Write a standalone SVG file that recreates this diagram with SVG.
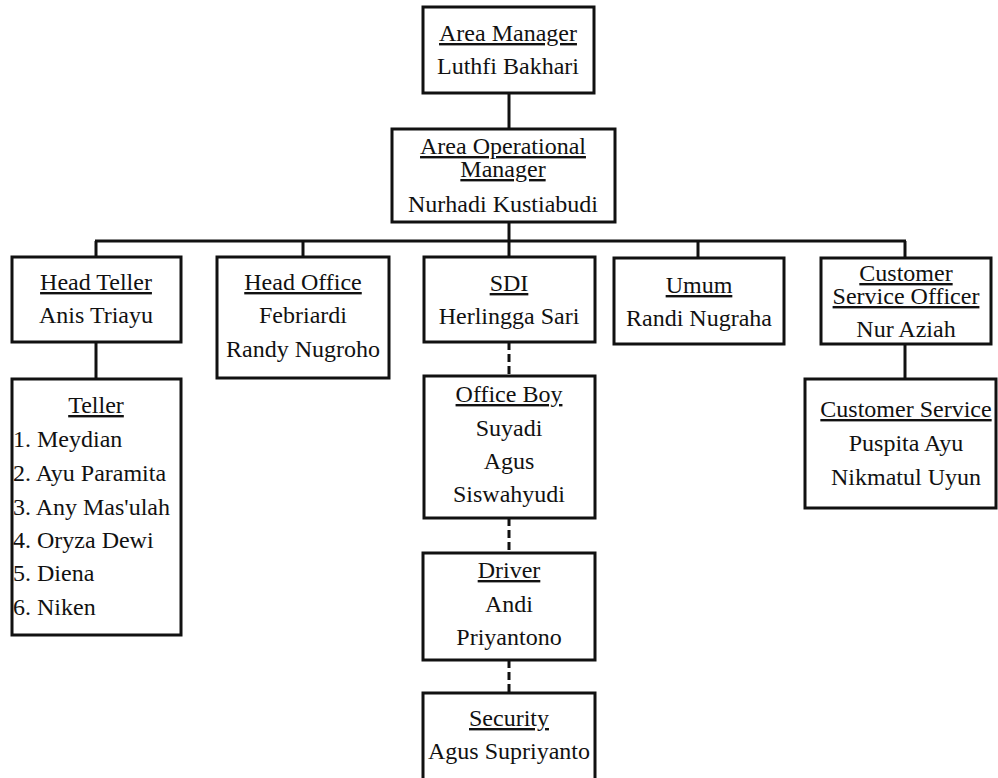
<svg xmlns="http://www.w3.org/2000/svg" width="998" height="778" viewBox="0 0 998 778" font-family="Liberation Serif, serif" font-size="24">
<style>
rect.box{fill:#fff;stroke:#111;stroke-width:3}
text{fill:#111;text-anchor:middle}
text.t{text-decoration:underline}
text.l{text-anchor:start}
.c line{stroke:#111;stroke-width:3}
.c line.d{stroke-dasharray:8 4}
</style>
<rect width="998" height="778" fill="#fff"/>
<g id="connectors" class="c">
<line x1="509" y1="93" x2="509" y2="129"/>
<line x1="509" y1="222" x2="509" y2="241"/>
<line x1="95" y1="241" x2="906" y2="241"/>
<line x1="96" y1="241" x2="96" y2="257"/>
<line x1="303" y1="241" x2="303" y2="257"/>
<line x1="509" y1="241" x2="509" y2="257"/>
<line x1="698" y1="241" x2="698" y2="258"/>
<line x1="905" y1="241" x2="905" y2="258"/>
<line x1="96" y1="342" x2="96" y2="379"/>
<line x1="905" y1="344" x2="905" y2="379"/>
<line class="d" x1="509" y1="342" x2="509" y2="376"/>
<line class="d" x1="509" y1="518" x2="509" y2="553"/>
<line class="d" x1="509" y1="660" x2="509" y2="693"/>
</g>
<g id="area-manager">
<rect class="box" x="423" y="7" width="171" height="86"/>
<text class="t" x="508" y="41">Area Manager</text>
<text x="508" y="74">Luthfi Bakhari</text>
</g>
<g id="area-operational-manager">
<rect class="box" x="392" y="129" width="223" height="93"/>
<text class="t" x="503" y="154">Area Operational</text>
<text class="t" x="503" y="177">Manager</text>
<text x="503" y="212">Nurhadi Kustiabudi</text>
</g>
<g id="head-teller">
<rect class="box" x="12" y="257" width="169" height="85"/>
<text class="t" x="96" y="290">Head Teller</text>
<text x="96" y="323">Anis Triayu</text>
</g>
<g id="head-office">
<rect class="box" x="217" y="257" width="172" height="121"/>
<text class="t" x="303" y="290">Head Office</text>
<text x="303" y="323">Febriardi</text>
<text x="303" y="357">Randy Nugroho</text>
</g>
<g id="sdi">
<rect class="box" x="424" y="257" width="171" height="85"/>
<text class="t" x="509" y="291">SDI</text>
<text x="509" y="324">Herlingga Sari</text>
</g>
<g id="umum">
<rect class="box" x="614" y="258" width="170" height="86"/>
<text class="t" x="699" y="293">Umum</text>
<text x="699" y="326">Randi Nugraha</text>
</g>
<g id="customer-service-officer">
<rect class="box" x="821" y="258" width="170" height="86"/>
<text class="t" x="906" y="281">Customer</text>
<text class="t" x="906" y="304">Service Officer</text>
<text x="906" y="337">Nur Aziah</text>
</g>
<g id="teller">
<rect class="box" x="12" y="379" width="169" height="256"/>
<text class="t" x="96" y="413">Teller</text>
<text class="l" x="13" y="447">1. Meydian</text>
<text class="l" x="13" y="481">2. Ayu Paramita</text>
<text class="l" x="13" y="515">3. Any Mas'ulah</text>
<text class="l" x="13" y="548">4. Oryza Dewi</text>
<text class="l" x="13" y="581">5. Diena</text>
<text class="l" x="13" y="615">6. Niken</text>
</g>
<g id="customer-service">
<rect class="box" x="805" y="379" width="191" height="129"/>
<text class="t" x="906" y="417">Customer Service</text>
<text x="906" y="451">Puspita Ayu</text>
<text x="906" y="485">Nikmatul Uyun</text>
</g>
<g id="office-boy">
<rect class="box" x="424" y="376" width="171" height="142"/>
<text class="t" x="509" y="402">Office Boy</text>
<text x="509" y="436">Suyadi</text>
<text x="509" y="469">Agus</text>
<text x="509" y="502">Siswahyudi</text>
</g>
<g id="driver">
<rect class="box" x="423" y="553" width="172" height="107"/>
<text class="t" x="509" y="578">Driver</text>
<text x="509" y="612">Andi</text>
<text x="509" y="645">Priyantono</text>
</g>
<g id="security">
<rect class="box" x="423" y="693" width="172" height="90"/>
<text class="t" x="509" y="726">Security</text>
<text x="509" y="759">Agus Supriyanto</text>
</g>
</svg>
